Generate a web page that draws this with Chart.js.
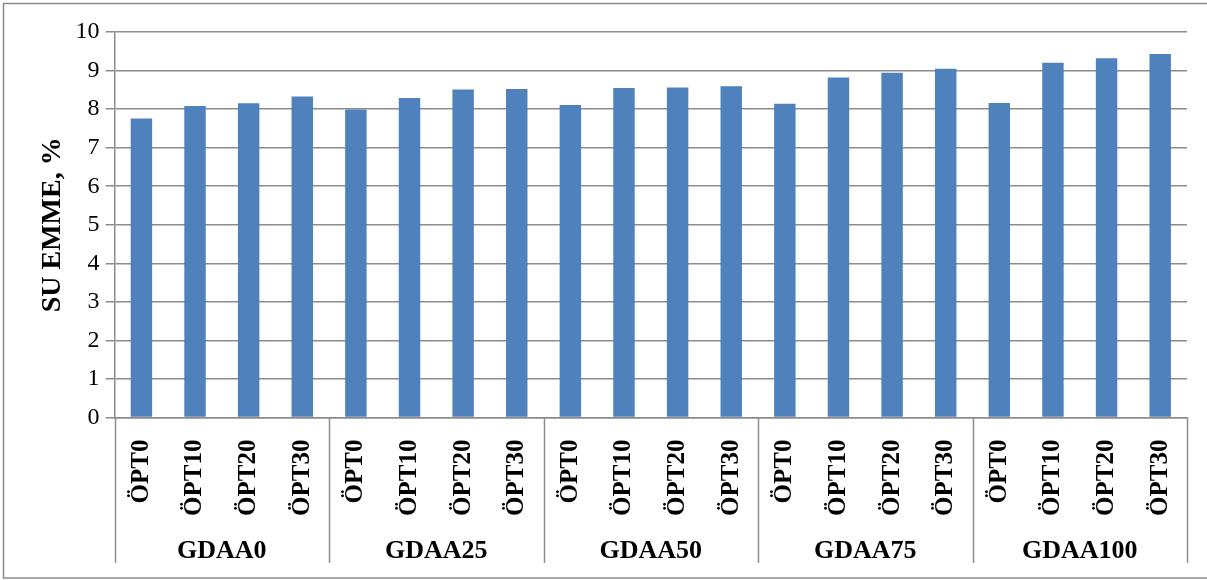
<!DOCTYPE html>
<html>
<head>
<meta charset="utf-8">
<script src="https://cdn.jsdelivr.net/npm/chart.js@4.4.1/dist/chart.umd.min.js"></script>
<style>
html,body{margin:0;padding:0;background:#fff;}
#wrap{width:1207px;height:580px;position:relative;}
</style>
</head>
<body>
<div id="wrap"><canvas id="c"></canvas></div>
<script>
const groups = ['GDAA0', 'GDAA25', 'GDAA50', 'GDAA75', 'GDAA100'];
const subLabels = ['ÖPT0', 'ÖPT10', 'ÖPT20', 'ÖPT30'];
const gdaa0 = [7.76, 8.08, 8.15, 8.33];
const gdaa25 = [7.99, 8.29, 8.51, 8.52];
const gdaa50 = [8.11, 8.55, 8.56, 8.59];
const gdaa75 = [8.14, 8.82, 8.94, 9.05];
const gdaa100 = [8.16, 9.20, 9.32, 9.43];
const yTicks = [0, 1, 2, 3, 4, 5, 6, 7, 8, 9, 10];
const yTitle = 'SU EMME, %';

const seriesByGroup = [gdaa0, gdaa25, gdaa50, gdaa75, gdaa100];
const labels = [];
const values = [];
groups.forEach((g, gi) => {
  subLabels.forEach((s, si) => {
    labels.push(s);
    values.push(seriesByGroup[gi][si]);
  });
});

const FONT = "'Liberation Serif', 'Times New Roman', serif";
const GRID = '#8c8c8c';

const decor = {
  id: 'decor',
  afterDraw(chart) {
    const ctx = chart.ctx;
    const x2 = chart.scales.x2;
    const ca = chart.chartArea;
    ctx.save();
    ctx.strokeStyle = GRID;
    ctx.lineWidth = 1.5;
    for (let i = 0; i <= groups.length; i++) {
      const px = Math.round(x2.getPixelForValue(i - 0.5)) + 0.5;
      ctx.beginPath();
      ctx.moveTo(px, ca.bottom);
      ctx.lineTo(px, 563);
      ctx.stroke();
    }
    ctx.strokeRect(3.5, 3.5, 1210, 574.5);
    ctx.restore();
  }
};

new Chart(document.getElementById('c'), {
  type: 'bar',
  data: {
    labels: labels,
    datasets: [{
      data: values,
      backgroundColor: '#4F81BD',
      borderWidth: 0,
      barPercentage: 0.4,
      categoryPercentage: 1.0
    }]
  },
  options: {
    responsive: true,
    maintainAspectRatio: false,
    animation: false,
    layout: { padding: { left: 36, right: 20, top: 32, bottom: 16 } },
    plugins: { legend: { display: false }, tooltip: { enabled: false } },
    scales: {
      x: {
        type: 'category',
        position: 'bottom',
        grid: { display: false },
        border: { display: true, color: GRID, width: 1.5 },
        ticks: {
          color: '#000',
          font: { family: FONT, size: 25, weight: 'bold' },
          maxRotation: 90, minRotation: 90,
          padding: 14,
          autoSkip: false
        }
      },
      x2: {
        type: 'category',
        position: 'bottom',
        labels: groups,
        offset: true,
        grid: { display: false },
        border: { display: false },
        ticks: {
          color: '#000',
          font: { family: FONT, size: 26, weight: 'bold', lineHeight: 1.0 },
          padding: 0,
          maxRotation: 0, minRotation: 0
        }
      },
      y: {
        min: 0, max: 10,
        afterBuildTicks(scale) { scale.ticks = yTicks.map(v => ({ value: v })); },
        grid: { color: GRID, lineWidth: 1.5, tickLength: 9 },
        border: { display: true, color: GRID, width: 1.5 },
        ticks: {
          color: '#000',
          font: { family: FONT, size: 24 },
          padding: 6
        },
        title: {
          display: true,
          text: yTitle,
          color: '#000',
          font: { family: FONT, size: 28, weight: 'bold' },
          padding: { top: 0, bottom: 0 }
        }
      }
    }
  },
  plugins: [decor]
});
</script>
</body>
</html>
